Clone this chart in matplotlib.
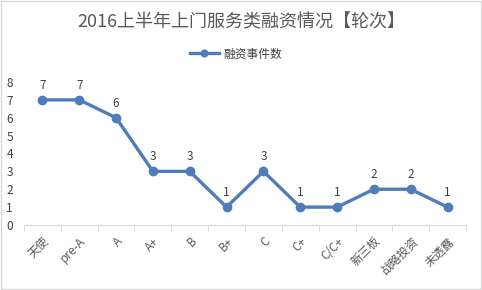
import matplotlib.pyplot as plt
from matplotlib.patches import Rectangle

plt.rcParams['font.family'] = ['Noto Sans CJK SC', 'DejaVu Sans']

# Data
rounds = ['天使', 'pre-A', 'A', 'A+', 'B', 'B+', 'C', 'C+', 'C/C+', '新三板', '战略投资', '未透露']
counts = [7, 7, 6, 3, 3, 1, 3, 1, 1, 2, 2, 1]

blue = '#4f7cba'
gray = '#595959'

fig = plt.figure(figsize=(4.82, 2.90), dpi=100)
ax = fig.add_axes([24 / 482, 1 - 225 / 290, 442 / 482, 143 / 290])

x = list(range(len(rounds)))
ax.plot(x, counts, color=blue, lw=2.4, marker='o', ms=6, label='融资事件数')
for xi, v in zip(x, counts):
    ax.text(xi, v + 0.45, str(v), ha='center', va='bottom', fontsize=8.5, color='#404040')

ax.set_xlim(-0.5, len(rounds) - 0.5)
ax.set_ylim(0, 8)
ax.set_yticks(range(0, 9))
ax.tick_params(axis='y', length=0, labelsize=8.5, labelcolor='#404040', pad=8)
ax.set_xticks(x)
ax.set_xticklabels(rounds, rotation=45, ha='right', rotation_mode='anchor',
                   fontsize=8.5, color=gray)
ax.tick_params(axis='x', length=0, pad=7)
# category boundary ticks
ax.set_xticks([i - 0.5 for i in range(len(rounds) + 1)], minor=True)
ax.tick_params(axis='x', which='minor', length=4, color='#d9d9d9')

for s in ['top', 'right', 'left']:
    ax.spines[s].set_visible(False)
ax.spines['bottom'].set_color('#d9d9d9')

fig.text(0.5, 1 - 22 / 290, '2016上半年上门服务类融资情况【轮次】', ha='center', va='center',
         fontsize=13, color=gray)
fig.legend(loc='center', bbox_to_anchor=(0.49, 1 - 54 / 290), frameon=False,
           fontsize=8.5, handlelength=2.4, handletextpad=0.4, markerscale=0.8,
           labelcolor='#404040')

fig.patches.append(Rectangle((0.002, 0.003), 0.995, 0.994, transform=fig.transFigure,
                             fill=False, edgecolor='#d9d9d9', lw=1))

fig.savefig('out.png', dpi=100)
